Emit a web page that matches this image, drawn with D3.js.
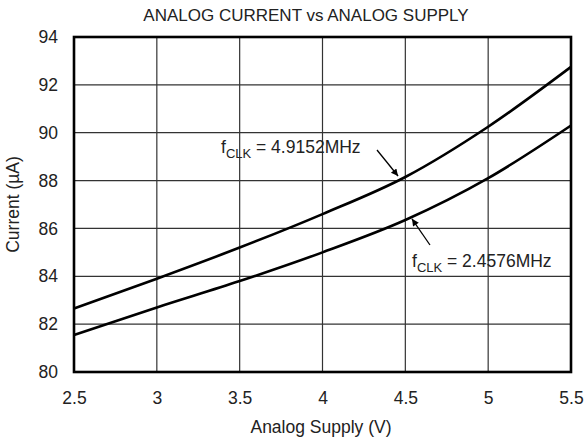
<!DOCTYPE html>
<html>
<head>
<meta charset="utf-8">
<script src="https://cdn.jsdelivr.net/npm/d3@7"></script>
<style>
  body { margin: 0; background: #fff; }
  text { font-family: "Liberation Sans", Arial, sans-serif; fill: #222; }
</style>
</head>
<body>
<script>
// data
var supply = [2.5, 3, 3.5, 4, 4.5, 5, 5.5];
var currentFast = [82.65, 83.9, 85.2, 86.6, 88.15, 90.25, 92.75];   // fCLK = 4.9152MHz
var currentSlow = [81.55, 82.7, 83.8, 85.0, 86.35, 88.1, 90.3];     // fCLK = 2.4576MHz
var xTicks = [2.5, 3, 3.5, 4, 4.5, 5, 5.5];
var yTicks = [80, 82, 84, 86, 88, 90, 92, 94];

var widthSvg = 585, heightSvg = 445;
var plotLeft = 74, plotRight = 571, plotTop = 37, plotBottom = 372;
var fontFamily = "Liberation Sans, Arial, sans-serif";

var svg = d3.select("body").append("svg")
  .attr("width", widthSvg)
  .attr("height", heightSvg);

var x = d3.scaleLinear().domain([2.5, 5.5]).range([plotLeft, plotRight]);
var y = d3.scaleLinear().domain([80, 94]).range([plotBottom, plotTop]);

// grid
svg.append("g").selectAll("line").data(xTicks.slice(1, -1)).enter().append("line")
  .attr("x1", d => x(d)).attr("x2", d => x(d))
  .attr("y1", plotTop).attr("y2", plotBottom)
  .attr("stroke", "#333").attr("stroke-width", 1.2);
svg.append("g").selectAll("line").data(yTicks.slice(1, -1)).enter().append("line")
  .attr("y1", d => y(d)).attr("y2", d => y(d))
  .attr("x1", plotLeft).attr("x2", plotRight)
  .attr("stroke", "#333").attr("stroke-width", 1.2);

// axes with labels only
var xAxis = d3.axisBottom(x).tickValues(xTicks).tickSize(0).tickPadding(20)
  .tickFormat(d3.format(""));
var gx = svg.append("g").attr("transform", "translate(0," + plotBottom + ")").call(xAxis);
gx.select(".domain").remove();
gx.selectAll("text").attr("font-size", 17.5).attr("fill", "#222")
  .attr("font-family", fontFamily);

var yAxis = d3.axisLeft(y).tickValues(yTicks).tickSize(0).tickPadding(16);
var gy = svg.append("g").attr("transform", "translate(" + plotLeft + ",0)").call(yAxis);
gy.select(".domain").remove();
gy.selectAll("text").attr("font-size", 17.5).attr("fill", "#222")
  .attr("font-family", fontFamily);

// curves
var line = d3.line()
  .x(function(d, i) { return x(supply[i]); })
  .y(function(d) { return y(d); })
  .curve(d3.curveMonotoneX);

[currentFast, currentSlow].forEach(function(s) {
  svg.append("path").datum(s)
    .attr("d", line)
    .attr("fill", "none")
    .attr("stroke", "#000")
    .attr("stroke-width", 2.6);
});

// frame
svg.append("rect")
  .attr("x", plotLeft).attr("y", plotTop)
  .attr("width", plotRight - plotLeft).attr("height", plotBottom - plotTop)
  .attr("fill", "none").attr("stroke", "#000").attr("stroke-width", 2.6);

// arrows and labels
svg.append("defs").append("marker")
  .attr("id", "arrow").attr("viewBox", "0 0 10 10")
  .attr("refX", 10).attr("refY", 5)
  .attr("markerWidth", 11).attr("markerHeight", 7)
  .attr("markerUnits", "userSpaceOnUse")
  .attr("orient", "auto")
  .append("path").attr("d", "M0,0 L10,5 L0,10 Z").attr("fill", "#000");

function label(tx, ty, ax, ay, bx, by, freq) {
  svg.append("line")
    .attr("x1", ax).attr("y1", ay).attr("x2", bx).attr("y2", by)
    .attr("stroke", "#000").attr("stroke-width", 1.3)
    .attr("marker-end", "url(#arrow)");
  var t = svg.append("text").attr("x", tx).attr("y", ty).attr("font-size", 17.5);
  t.append("tspan").text("f");
  t.append("tspan").attr("font-size", 13).attr("dy", 5).text("CLK");
  t.append("tspan").attr("dy", -5).text(" = " + freq);
}
label(221, 153, 377, 150, x(4.456), y(88.19), "4.9152MHz");
label(412, 267, 430, 245, x(4.54), y(86.4), "2.4576MHz");

// titles
svg.append("text").attr("x", 306).attr("y", 21)
  .attr("text-anchor", "middle").attr("font-size", 17)
  .text("ANALOG CURRENT vs ANALOG SUPPLY");

svg.append("text").attr("x", 321).attr("y", 433)
  .attr("text-anchor", "middle").attr("font-size", 17.5)
  .text("Analog Supply (V)");

svg.append("text")
  .attr("transform", "translate(19," + ((plotTop + plotBottom) / 2) + ") rotate(-90)")
  .attr("text-anchor", "middle").attr("font-size", 17.5)
  .text("Current (µA)");
</script>
</body>
</html>
